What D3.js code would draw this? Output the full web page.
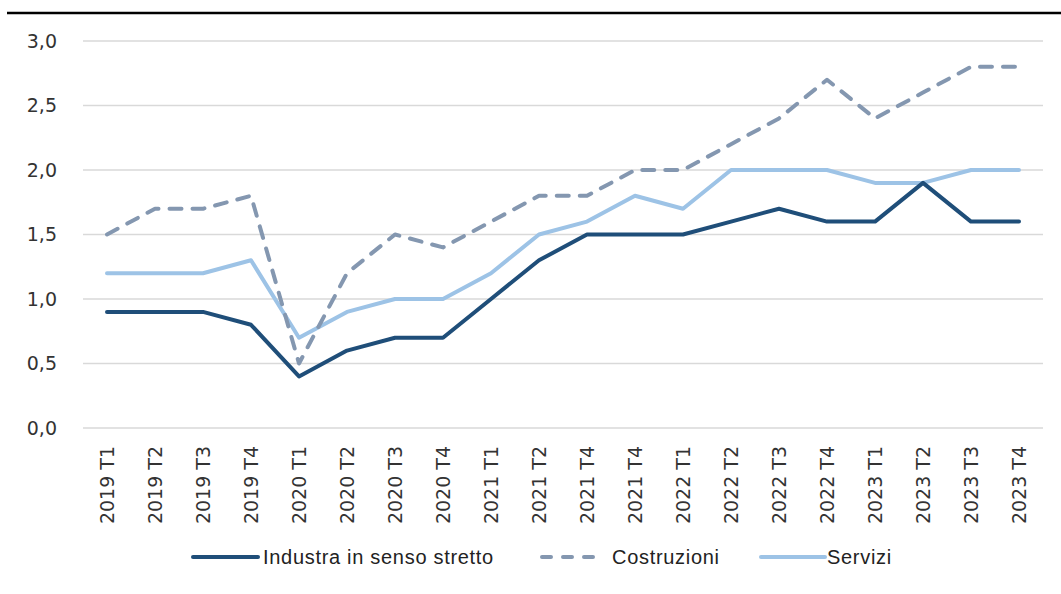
<!DOCTYPE html>
<html>
<head>
<meta charset="utf-8">
<script src="https://cdn.jsdelivr.net/npm/d3@7"></script>
<style>
  body { margin: 0; background: #fff; }
</style>
</head>
<body>
<div id="my_chart"></div>
<script>

// ======================= //
// DATA
// ======================= //

var quarters = ["2019 T1", "2019 T2", "2019 T3", "2019 T4",
                "2020 T1", "2020 T2", "2020 T3", "2020 T4",
                "2021 T1", "2021 T2", "2021 T4", "2021 T4",
                "2022 T1", "2022 T2", "2022 T3", "2022 T4",
                "2023 T1", "2023 T2", "2023 T3", "2023 T4"]

var industria   = [0.9, 0.9, 0.9, 0.8, 0.4, 0.6, 0.7, 0.7, 1.0, 1.3, 1.5, 1.5, 1.5, 1.6, 1.7, 1.6, 1.6, 1.9, 1.6, 1.6]
var costruzioni = [1.5, 1.7, 1.7, 1.8, 0.5, 1.2, 1.5, 1.4, 1.6, 1.8, 1.8, 2.0, 2.0, 2.2, 2.4, 2.7, 2.4, 2.6, 2.8, 2.8]
var servizi     = [1.2, 1.2, 1.2, 1.3, 0.7, 0.9, 1.0, 1.0, 1.2, 1.5, 1.6, 1.8, 1.7, 2.0, 2.0, 2.0, 1.9, 1.9, 2.0, 2.0]

var yTicks = [0, 0.5, 1, 1.5, 2, 2.5, 3]

var seriesNames = ["Industra in senso stretto", "Costruzioni", "Servizi"]


// ======================= //
// SVG AREA
// ======================= //

var W = 1061, H = 594

var svg = d3.select("#my_chart")
  .append("svg")
    .attr("width", W)
    .attr("height", H)

// black rule on top
svg.append("line")
    .attr("x1", 7).attr("x2", W)
    .attr("y1", 13).attr("y2", 13)
    .attr("stroke", "black")
    .attr("stroke-width", 2.5)


// ======================= //
// SCALES AND AXES
// ======================= //

var x = d3.scaleBand()
  .domain(d3.range(quarters.length))
  .range([83, 1043])

var y = d3.scaleLinear()
  .domain([0, 3])
  .range([428, 41])

// gridlines
svg.append("g")
  .selectAll("line")
  .data(yTicks)
  .enter()
  .append("line")
    .attr("x1", 83).attr("x2", 1043)
    .attr("y1", function(d){ return y(d) })
    .attr("y2", function(d){ return y(d) })
    .attr("stroke", "#d9d9d9")
    .attr("stroke-width", 1.5)

// y labels
svg.append("g")
  .selectAll("text")
  .data(yTicks)
  .enter()
  .append("text")
    .attr("x", 57)
    .attr("y", function(d){ return y(d) })
    .attr("dy", "0.36em")
    .attr("text-anchor", "end")
    .style("font-family", "DejaVu Sans")
    .style("font-size", "19px")
    .style("fill", "#333")
    .text(function(d){ return d3.format(".1f")(d).replace(".", ",") })

// x labels (rotated)
svg.append("g")
  .selectAll("text")
  .data(quarters)
  .enter()
  .append("text")
    .attr("transform", function(d, i){ return "translate(" + (x(i) + x.bandwidth() / 2) + ",446) rotate(-90)" })
    .attr("dy", "0.36em")
    .attr("text-anchor", "end")
    .style("font-family", "DejaVu Sans")
    .style("font-size", "19px")
    .style("fill", "#333")
    .text(function(d){ return d })


// ======================= //
// LINES
// ======================= //

var series = [
  {name: seriesNames[0], values: industria,   color: "#1f4e79", dash: null},
  {name: seriesNames[1], values: costruzioni, color: "#8497b0", dash: "12,11"},
  {name: seriesNames[2], values: servizi,     color: "#9dc3e6", dash: null}
]

var line = d3.line()
  .x(function(d, i){ return x(i) + x.bandwidth() / 2 })
  .y(function(d){ return y(d) })

// draw order: servizi, costruzioni, industria on top
var drawOrder = [series[2], series[1], series[0]]

svg.append("g")
  .selectAll("path")
  .data(drawOrder)
  .enter()
  .append("path")
    .attr("d", function(d){ return line(d.values) })
    .attr("fill", "none")
    .attr("stroke", function(d){ return d.color })
    .attr("stroke-width", 4)
    .attr("stroke-linejoin", "round")
    .attr("stroke-linecap", "round")
    .attr("stroke-dasharray", function(d){ return d.dash })


// ======================= //
// LEGEND
// ======================= //

var legendPos = [{x1: 193, x2: 258, tx: 263},
                 {x1: 542, x2: 600, tx: 612},
                 {x1: 761, x2: 825, tx: 827}]
var legY = 557

var leg = svg.append("g")
  .selectAll("g")
  .data(series)
  .enter()
  .append("g")

leg.append("line")
    .attr("x1", function(d, i){ return legendPos[i].x1 })
    .attr("x2", function(d, i){ return legendPos[i].x2 })
    .attr("y1", legY).attr("y2", legY)
    .attr("stroke", function(d){ return d.color })
    .attr("stroke-width", 4)
    .attr("stroke-linecap", "round")
    .attr("stroke-dasharray", function(d){ return d.dash ? "9,12" : null })

leg.append("text")
    .attr("x", function(d, i){ return legendPos[i].tx })
    .attr("y", legY)
    .attr("dy", "0.35em")
    .style("font-family", "Liberation Sans")
    .style("font-size", "20px")
    .style("letter-spacing", "0.7px")
    .style("fill", "#222")
    .text(function(d){ return d.name })

</script>
</body>
</html>
